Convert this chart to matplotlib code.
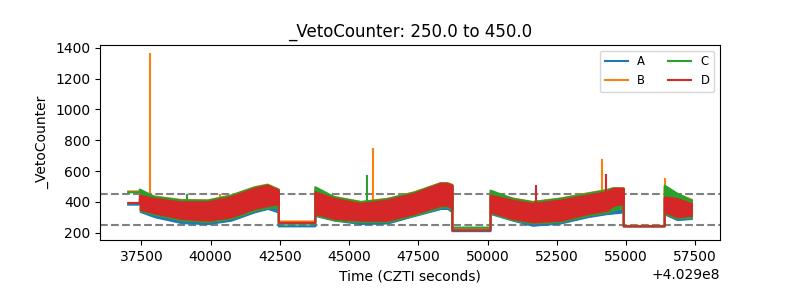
import numpy as np
import matplotlib
matplotlib.use("Agg")
import matplotlib.pyplot as plt

T0 = 402900000
lo_thr, hi_thr = 250.0, 450.0
names = ["A", "B", "C", "D"]
colors = ["C0", "C1", "C2", "C3"]

# flat (SAA / gap) stretches: start, end time offsets and level per quadrant
flat_t = [(37020, 37440), (42460, 43780), (48730, 50110), (54920, 56400)]
flat_A = [382, 241, 210, 240]
flat_B = [468, 273, 226, 244]
flat_C = [462, 258, 233, 242]
flat_D = [393, 264, 216, 241]

# noisy stretches: knot times and lower/upper envelope of each quadrant
band_t = [
    [37440, 37980, 38940, 39900, 40740, 41580, 42060, 42460],
    [43780, 44470, 45430, 46390, 47350, 48310, 48550, 48730],
    [50110, 50910, 51630, 52640, 53600, 54320, 54560, 54920],
    [56400, 56840, 57380],
]
A_hi = [[420, 400, 378, 378, 410, 465, 485, 455],
        [440, 400, 368, 390, 432, 495, 495, 485],
        [420, 390, 368, 390, 420, 442, 462, 462],
        [410, 400, 370]]
A_lo = [[335, 300, 262, 256, 278, 332, 354, 330],
        [308, 278, 256, 260, 308, 354, 354, 330],
        [321, 278, 245, 260, 300, 321, 325, 332],
        [318, 282, 289]]
B_hi = [[455, 435, 412, 410, 442, 495, 512, 480],
        [475, 432, 400, 420, 462, 522, 522, 510],
        [460, 422, 400, 422, 455, 478, 490, 488],
        [490, 450, 414]]
B_lo = [[345, 318, 282, 272, 292, 345, 365, 370],
        [315, 282, 270, 272, 314, 366, 366, 345],
        [328, 284, 262, 272, 312, 335, 350, 360],
        [325, 295, 300]]
C_hi = [[480, 432, 410, 408, 440, 492, 510, 478],
        [495, 430, 398, 418, 460, 520, 520, 508],
        [473, 420, 398, 420, 452, 475, 488, 486],
        [505, 455, 408]]
C_lo = [[342, 316, 280, 270, 290, 342, 362, 360],
        [312, 280, 268, 270, 312, 364, 364, 342],
        [326, 282, 260, 270, 310, 332, 345, 365],
        [322, 292, 298]]
D_hi = [[440, 419, 397, 397, 429, 484, 505, 473],
        [462, 419, 386, 408, 451, 516, 516, 505],
        [440, 408, 386, 408, 440, 462, 484, 484],
        [429, 419, 386]]
D_lo = [[349, 325, 289, 278, 300, 354, 373, 386],
        [321, 289, 278, 278, 321, 375, 375, 354],
        [332, 289, 267, 278, 321, 343, 375, 386],
        [332, 300, 310]]

# isolated spikes (time offset, peak value)
spikes = {
    "A": [],
    "B": [(37825, 1360), (40350, 447), (45850, 743), (54140, 670), (56420, 550)],
    "C": [(39160, 447), (45645, 570)],
    "D": [(51750, 500), (54290, 576)],
}

flats = {"A": flat_A, "B": flat_B, "C": flat_C, "D": flat_D}
his = {"A": A_hi, "B": B_hi, "C": C_hi, "D": D_hi}
los = {"A": A_lo, "B": B_lo, "C": C_lo, "D": D_lo}

fig, ax = plt.subplots(figsize=(8, 3), dpi=100)
fig.subplots_adjust(left=0.125, right=0.9, bottom=0.2, top=0.85)

for k, (name, col) in enumerate(zip(names, colors)):
    z = 2 + k
    tt, vv = [], []
    for i in range(4):
        tt += list(flat_t[i])
        vv += [flats[name][i]] * 2
        tt += band_t[i]
        vv += his[name][i]
    ax.plot(T0 + np.array(tt), vv, color=col, lw=1.5, label=name, zorder=z)
    for i in range(4):
        t = T0 + np.array(band_t[i])
        ax.fill_between(t, los[name][i], his[name][i], color=col, lw=0.8,
                        zorder=z)
    all_t = np.concatenate(band_t)
    all_lo = np.concatenate(los[name])
    for ts, peak in spikes[name]:
        base = np.interp(ts, all_t, all_lo)
        ax.plot([T0 + ts, T0 + ts], [base, peak], color=col, lw=1.5, zorder=z)

# threshold lines sit behind the data
ax.axhline(lo_thr, color="gray", ls="--", lw=1.5, zorder=1)
ax.axhline(hi_thr, color="gray", ls="--", lw=1.5, zorder=1)

ax.set_title("_VetoCounter: %.1f to %.1f" % (lo_thr, hi_thr))
ax.set_xlabel("Time (CZTI seconds)")
ax.set_ylabel("_VetoCounter")
ax.legend(loc="upper right", ncol=2, fontsize="small")

fig.savefig("out.png")
